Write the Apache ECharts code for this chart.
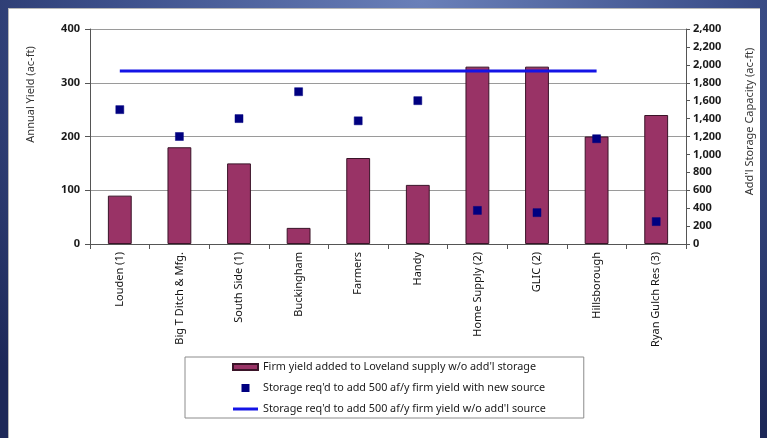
<!DOCTYPE html>
<html>
<head>
<meta charset="utf-8">
<style>
  html, body { margin: 0; padding: 0; width: 767px; height: 438px; overflow: hidden; }
  body { background: radial-gradient(ellipse 90% 140% at 55% 0%, #6a80b9 0%, #3c4f8a 45%, #1d2858 85%); }
  #panel { position: absolute; left: 8px; top: 8px; width: 752px; height: 440px; background: #fff;
           border-left: 1px solid #b8b8b8; border-top: 1px solid #b8b8b8; box-sizing: border-box; }
  #chart { position: absolute; left: 0; top: 0; width: 767px; height: 438px; }
</style>
<script src="https://cdn.jsdelivr.net/npm/echarts@6/dist/echarts.min.js"></script>
</head>
<body>
<div id="panel"></div>
<div id="chart"></div>
<script>
// Water rights / sources considered for Loveland supply
const categories = ['Louden (1)', 'Big T Ditch & Mfg.', 'South Side (1)', 'Buckingham', 'Farmers',
                    'Handy', 'Home Supply (2)', 'GLIC (2)', 'Hillsborough', 'Ryan Gulch Res (3)'];

// Firm yield added without additional storage (ac-ft/yr, left axis)
const firmYield = [90, 180, 150, 30, 160, 110, 330, 330, 200, 240];

// Storage needed for 500 af/y firm yield with a new source (ac-ft, right axis)
const storageNewSource = [1500, 1200, 1400, 1700, 1375, 1600, 375, 350, 1175, 250];

// Storage needed for 500 af/y firm yield without an additional source (ac-ft, right axis)
const storageNoSource = [1930, 1930, 1930, 1930, 1930, 1930, 1930, 1930, 1930, null];

const yieldTicks = { min: 0, max: 400, interval: 100 };
const storageTicks = { min: 0, max: 2400, interval: 200 };

const names = [
  "Firm yield added to Loveland supply w/o add'l storage",
  "Storage req'd to add 500 af/y firm yield with new source",
  "Storage req'd to add 500 af/y firm yield w/o add'l source"
];

const FONT = 'Noto Sans';
const chart = echarts.init(document.getElementById('chart'));

chart.setOption({
  backgroundColor: 'transparent',
  animation: false,
  textStyle: { fontFamily: FONT },
  grid: { left: 90, right: 81, top: 29, bottom: 194, containLabel: false },
  legend: {
    orient: 'vertical',
    left: 185,
    top: 357,
    padding: [3, 38, 2, 47],
    itemGap: 7,
    itemWidth: 25,
    itemHeight: 6,
    symbolKeepAspect: true,
    backgroundColor: '#fff',
    borderColor: '#8c8c8c',
    borderWidth: 1,
    borderRadius: 0,
    textStyle: { fontFamily: FONT, fontSize: 10.8, color: '#1a1a1a', lineHeight: 14 },
    data: [
      { name: names[0], icon: 'path://M0,0h25v6h-25z' },
      { name: names[1], icon: 'path://M0,0h6v6h-6z' },
      { name: names[2], icon: 'path://M0,0h25v3h-25z' }
    ]
  },
  xAxis: {
    type: 'category',
    data: categories,
    axisLine: { lineStyle: { color: '#555', width: 1 } },
    axisTick: { show: true, alignWithLabel: false, length: 5, lineStyle: { color: '#555' } },
    axisLabel: { rotate: 90, fontSize: 11, color: '#111', margin: 8, fontFamily: FONT, interval: 0 }
  },
  yAxis: [
    {
      type: 'value',
      min: yieldTicks.min, max: yieldTicks.max, interval: yieldTicks.interval,
      name: 'Annual Yield (ac-ft)',
      nameLocation: 'middle',
      nameGap: 54,
      nameTextStyle: { fontSize: 11, color: '#333', fontFamily: FONT, padding: [0, 0, 0, 84] },
      axisLine: { show: true, lineStyle: { color: '#555' } },
      axisTick: { show: true, length: 5, lineStyle: { color: '#555' } },
      axisLabel: { fontSize: 11, fontWeight: 'bold', color: '#1a1a1a', margin: 10 },
      splitLine: { show: true, lineStyle: { color: '#9a9a9a', width: 1 } }
    },
    {
      type: 'value',
      position: 'right',
      min: storageTicks.min, max: storageTicks.max, interval: storageTicks.interval,
      name: "Add'l Storage Capacity (ac-ft)",
      nameLocation: 'middle',
      nameGap: 58,
      nameTextStyle: { fontSize: 11, color: '#333', fontFamily: FONT, padding: [0, 0, 0, 30] },
      axisLine: { show: true, lineStyle: { color: '#555' } },
      axisTick: { show: true, length: 4, lineStyle: { color: '#555' } },
      axisLabel: {
        fontSize: 11, fontWeight: 'bold', color: '#1a1a1a', margin: 7,
        formatter: v => v.toLocaleString('en-US')
      },
      splitLine: { show: false }
    }
  ],
  series: [
    {
      name: names[0],
      type: 'bar',
      yAxisIndex: 0,
      data: firmYield,
      barWidth: '40%',
      itemStyle: { color: '#993366', borderColor: '#3a1428', borderWidth: 1 },
      z: 2
    },
    {
      name: names[1],
      type: 'scatter',
      yAxisIndex: 1,
      data: storageNewSource,
      symbol: 'rect',
      symbolSize: 8,
      itemStyle: { color: '#000080', borderColor: '#000080', borderWidth: 0.5, opacity: 1 },
      z: 4
    },
    {
      name: names[2],
      type: 'line',
      yAxisIndex: 1,
      data: storageNoSource,
      showSymbol: false,
      symbol: 'none',
      lineStyle: { color: '#1414e6', width: 3 },
      itemStyle: { color: '#1414e6' },
      z: 3
    }
  ]
});
</script>
</body>
</html>
